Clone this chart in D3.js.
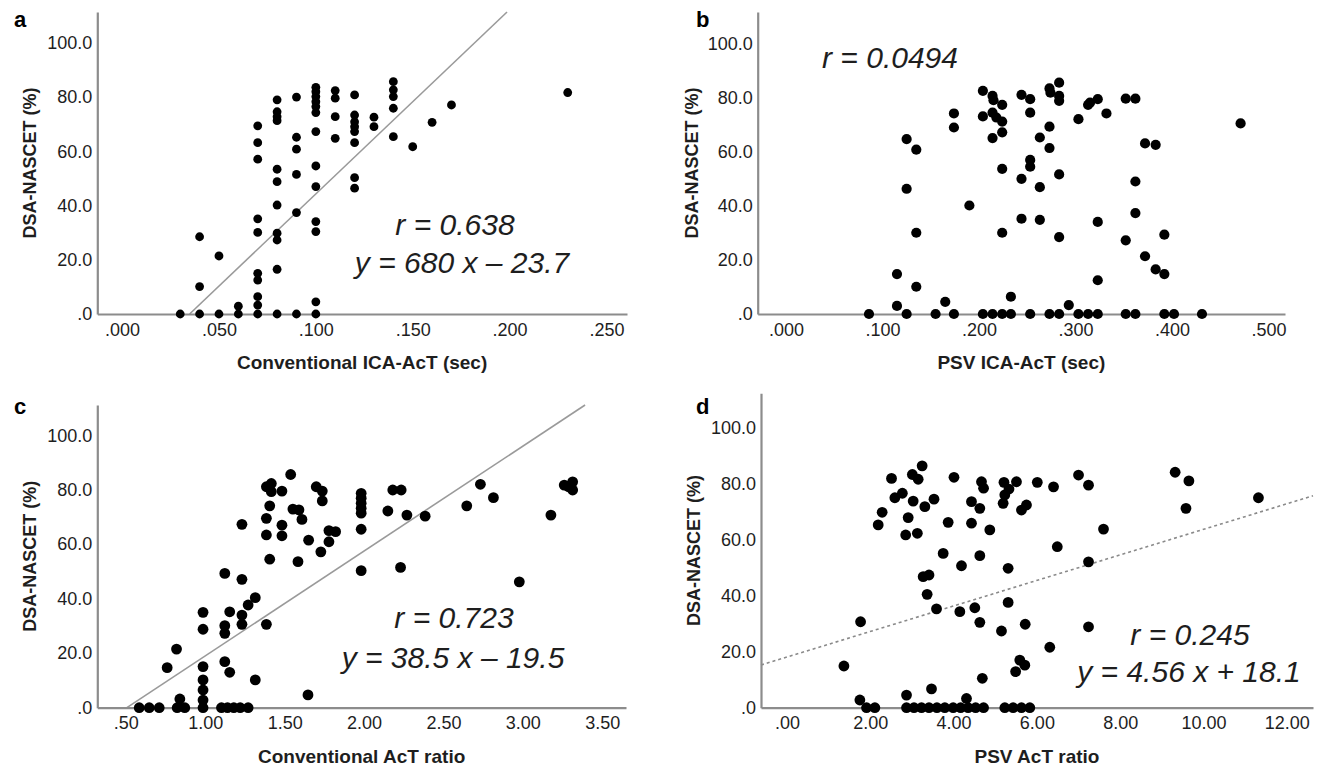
<!DOCTYPE html>
<html>
<head>
<meta charset="utf-8">
<script src="https://cdn.jsdelivr.net/npm/d3@7"></script>
<style>
  html, body { margin: 0; padding: 0; background: #fff; }
  svg { display: block; font-family: "Liberation Sans", Arial, sans-serif; }
</style>
</head>
<body>
<svg id="chart" width="1322" height="767"></svg>
<script>
// ---------------- DATA ----------------
const yTicks = [0, 20, 40, 60, 80, 100];
const yTickLabels = [".0", "20.0", "40.0", "60.0", "80.0", "100.0"];
const yTitle = "DSA-NASCET (%)";

// Panel a: Conventional ICA-AcT (sec)
const aX = [0.03,
  0.04,0.04,0.04,
  0.05,0.05,
  0.06,0.06,
  0.07,0.07,0.07,0.07,0.07,0.07,0.07,0.07,0.07,0.07,
  0.08,0.08,0.08,0.08,0.08,0.08,0.08,0.08,0.08,0.08,0.08,
  0.09,0.09,0.09,0.09,0.09,0.09,
  0.10,0.10,0.10,0.10,0.10,0.10,0.10,0.10,0.10,0.10,0.10,0.10,0.10,
  0.11,0.11,0.11,0.11,
  0.12,0.12,0.12,0.12,0.12,0.12,0.12,0.12,
  0.13,0.13,
  0.14,0.14,0.14,0.14,0.14,
  0.15,0.16,0.17,0.23];
const aY = [0,
  28.5,10.1,0,
  21.4,0,
  2.9,0,
  69.4,63.2,57.1,35.1,30.1,15.0,12.5,6.4,3.3,0,
  79.0,74.6,72.8,71.3,53.4,48.8,40.2,29.8,27.3,16.5,0,
  80.0,65.2,60.8,51.5,37.4,0,
  83.6,82.0,80.2,78.3,76.5,74.3,67.3,54.6,47.0,34.1,30.4,4.5,0,
  82.4,79.6,72.8,64.8,
  80.8,73.4,70.9,69.1,67.3,63.2,50.3,46.4,
  72.6,69.1,
  85.7,82.7,80.2,75.9,65.4,
  61.7,70.7,77.1,81.7];
const aXTicks = [0, 0.05, 0.10, 0.15, 0.20, 0.25];
const aXTickLabels = [".000", ".050", ".100", ".150", ".200", ".250"];
const aXDomain = [-0.0128, 0.2606];
const aYDomain = [0, 111.4];
const aFit = { slope: 680, intercept: -23.7, dotted: false };
const aText = ["r = 0.638", "y = 680 x \u2013 23.7"];
const aXTitle = "Conventional ICA-AcT (sec)";

// Panel b: PSV ICA-AcT (sec)
const bX = [0.086,0.115,0.115,0.125,0.125,0.125,0.135,0.135,0.135,0.155,0.165,0.174,0.174,0.174,0.19,
  0.204,0.214,0.215,0.224,0.204,0.214,0.218,0.224,0.224,0.214,0.224,0.224,0.233,
  0.244,0.253,0.253,0.244,0.253,0.253,0.244,0.263,0.263,0.263,
  0.273,0.274,0.283,0.283,0.283,0.273,0.273,0.283,0.283,0.293,
  0.303,0.313,0.315,0.323,0.332,0.323,0.323,
  0.352,0.362,0.372,0.383,0.362,0.362,0.352,0.372,0.383,0.392,0.392,0.471,
  0.204,0.214,0.224,0.233,0.253,0.273,0.283,0.303,0.313,0.323,0.352,0.362,0.392,0.402,0.431];
const bY = [0,14.8,3.0,64.8,46.4,0,60.9,30.1,10.1,0,4.5,0,74.3,69.1,40.2,
  82.7,80.8,79.2,77.5,73.2,74.6,72.8,71.3,67.3,65.2,53.8,30.1,6.4,
  81.2,79.6,74.6,50.1,57.1,54.6,35.3,65.4,47.0,34.9,
  83.6,82.0,85.7,80.8,79.0,69.4,61.5,51.7,28.5,3.3,
  72.2,77.5,78.3,79.6,74.3,34.1,12.5,
  79.8,79.8,63.2,62.7,49.1,37.4,27.3,21.4,16.5,14.8,29.4,70.6,
  0,0,0,0,0,0,0,0,0,0,0,0,0,0,0];
const bXTicks = [0, 0.1, 0.2, 0.3, 0.4, 0.5];
const bXTickLabels = [".000", ".100", ".200", ".300", ".400", ".500"];
const bXDomain = [-0.0293, 0.517];
const bYDomain = [0, 111.9];
const bFit = null;
const bText = ["r = 0.0494"];
const bXTitle = "PSV ICA-AcT (sec)";

// Panel c: Conventional AcT ratio
const cX = [0.584,0.647,0.710,0.823,0.84,0.871,0.76,0.819,
  0.986,0.986,0.986,0.986,0.986,0.986,0.986,
  1.102,1.14,1.18,1.22,1.27,
  1.123,1.123,1.123,1.123,1.154,1.154,
  1.231,1.231,1.231,1.231,1.27,1.315,1.315,
  1.385,1.385,1.385,1.385,1.416,1.416,1.406,1.406,
  1.483,1.483,1.483,1.538,1.552,1.59,1.609,1.584,1.651,
  1.699,1.737,1.737,1.728,1.779,1.779,1.821,1.647,
  1.982,1.982,1.982,1.982,1.982,1.982,1.982,
  2.15,2.181,2.234,2.27,2.23,2.385,2.647,2.733,2.815,2.978,3.177,
  3.261,3.314,3.314,3.288];
const cY = [0,0,0,0,3.2,0,14.7,21.5,
  0,2.8,6.5,10.2,15.1,28.8,35.0,
  0,0,0,0,0,
  16.9,49.3,30.1,27.3,13.0,35.2,
  67.3,47.1,34.0,30.6,37.7,40.4,10.2,
  30.6,69.5,63.4,81.1,82.3,79.3,74.1,54.5,
  79.5,67.0,63.1,85.6,72.9,72.6,69.1,53.6,61.5,
  81.1,79.5,75.9,57.2,65.0,60.9,64.6,4.7,
  78.7,76.9,75.0,73.2,71.4,65.5,50.3,
  72.2,79.9,79.9,70.7,51.5,70.3,74.1,82.0,77.1,46.2,70.7,
  81.7,82.9,79.9,81.1];
const cXTicks = [0.5, 1.0, 1.5, 2.0, 2.5, 3.0, 3.5];
const cXTickLabels = [".50", "1.00", "1.50", "2.00", "2.50", "3.00", "3.50"];
const cXDomain = [0.32, 3.65];
const cYDomain = [0, 111.1];
const cFit = { slope: 38.5, intercept: -19.5, dotted: false };
const cText = ["r = 0.723", "y = 38.5 x \u2013 19.5"];
const cXTitle = "Conventional AcT ratio";

// Panel d: PSV AcT ratio
const dX = [1.367,1.767,1.75,1.91,2.11,2.19,2.285,2.51,2.59,2.77,2.91,2.85,3.01,3.15,3.03,3.245,3.31,3.53,3.13,
  2.87,3.47,2.87,3.05,3.23,3.41,3.60,3.79,3.27,3.41,3.365,3.59,3.75,3.87,4.01,4.19,4.15,4.31,
  3.99,4.17,4.35,4.53,4.72,4.43,4.63,4.43,4.51,4.63,4.63,4.67,4.72,4.69,4.87,
  5.21,5.51,5.23,5.19,5.33,5.63,5.75,6.01,6.40,7.0,7.24,5.31,5.31,5.15,5.72,6.49,6.31,
  5.59,5.71,5.49,7.24,7.24,7.60,9.32,9.65,9.58,11.32,5.23,5.43,5.63,5.83];
const dY = [14.9,30.7,2.75,0,0,65.3,69.8,81.9,75.0,76.6,67.9,61.7,83.3,81.6,73.8,86.4,71.8,74.5,62.3,
  4.5,6.7,0,0,0,0,0,0,46.8,47.4,40.5,35.3,55.1,66.2,82.3,50.7,34.3,3.3,
  0,0,0,0,0,73.6,71.2,65.9,35.7,30.5,54.3,80.7,78.4,10.5,63.5,
  80.5,80.7,76.0,73.0,78.1,70.6,72.4,80.5,78.9,83.1,79.5,49.8,37.6,27.4,29.8,57.5,21.6,
  17.0,15.2,12.9,52.1,28.9,63.8,84.1,81.0,71.2,75.0,0,0,0,0];
const dXTicks = [0, 2, 4, 6, 8, 10, 12];
const dXTickLabels = [".00", "2.00", "4.00", "6.00", "8.00", "10.00", "12.00"];
const dXDomain = [-0.624, 12.63];
const dYDomain = [0, 112.3];
const dFit = { slope: 4.56, intercept: 18.1, dotted: true };
const dText = ["r = 0.245", "y = 4.56 x + 18.1"];
const dXTitle = "PSV AcT ratio";

// ---------------- LAYOUT ----------------
const panels = [
  { id: "a", xs: aX, ys: aY, xTicks: aXTicks, xLabels: aXTickLabels, xDom: aXDomain, yDom: aYDomain,
    fit: aFit, text: aText, xTitle: aXTitle,
    box: { l: 97.3, r: 627, t: 12, b: 314 }, rad: 4.4,
    lab: [14, 27], textPos: [[455, 235], [462, 273]], yTitleX: 36 },
  { id: "b", xs: bX, ys: bY, xTicks: bXTicks, xLabels: bXTickLabels, xDom: bXDomain, yDom: bYDomain,
    fit: bFit, text: bText, xTitle: bXTitle,
    box: { l: 757.7, r: 1285, t: 12, b: 314 }, rad: 5.1,
    lab: [696, 27], textPos: [[890, 68]], yTitleX: 698 },
  { id: "c", xs: cX, ys: cY, xTicks: cXTicks, xLabels: cXTickLabels, xDom: cXDomain, yDom: cYDomain,
    fit: cFit, text: cText, xTitle: cXTitle,
    box: { l: 97.3, r: 626, t: 405, b: 707.7 }, rad: 5.4,
    lab: [14, 414], textPos: [[454, 628], [453, 668]], yTitleX: 36 },
  { id: "d", xs: dX, ys: dY, xTicks: dXTicks, xLabels: dXTickLabels, xDom: dXDomain, yDom: dYDomain,
    fit: dFit, text: dText, xTitle: dXTitle,
    box: { l: 761, r: 1313, t: 393.3, b: 707.7 }, rad: 5.4,
    lab: [696, 414], textPos: [[1190, 645], [1189, 682]], yTitleX: 700 }
];

const svg = d3.select("#chart");
svg.append("rect").attr("width", 1322).attr("height", 767).attr("fill", "#fff");

const axisColor = "#8c8c8c";
const textColor = "#1e1e1e";

panels.forEach(p => {
  const g = svg.append("g");
  const x = d3.scaleLinear().domain(p.xDom).range([p.box.l, p.box.r]);
  const y = d3.scaleLinear().domain(p.yDom).range([p.box.b, p.box.t]);

  // regression line
  if (p.fit) {
    const f = p.fit;
    let x0 = p.xDom[0], x1 = p.xDom[1];
    const xAtY0 = (p.yDom[0] - f.intercept) / f.slope;
    const xAtYmax = (p.yDom[1] - f.intercept) / f.slope;
    x0 = Math.max(x0, Math.min(xAtY0, xAtYmax));
    x1 = Math.min(x1, Math.max(xAtY0, xAtYmax));
    const line = d3.line().x(d => x(d)).y(d => y(f.slope * d + f.intercept));
    g.append("path")
      .datum([x0, x1])
      .attr("d", line)
      .attr("fill", "none")
      .attr("stroke", f.dotted ? "#8a8a8a" : "#9a9a9a")
      .attr("stroke-width", f.dotted ? 1.6 : 1.6)
      .attr("stroke-dasharray", f.dotted ? "3,3" : null);
  }

  // axes
  const xAxis = d3.axisBottom(x).tickValues(p.xTicks)
    .tickFormat((d, i) => p.xLabels[i]).tickSize(0).tickSizeOuter(0).tickPadding(9);
  const yAxis = d3.axisLeft(y).tickValues(yTicks)
    .tickFormat((d, i) => yTickLabels[i]).tickSize(0).tickSizeOuter(0).tickPadding(5);

  const gx = g.append("g").attr("transform", `translate(0,${p.box.b})`).call(xAxis);
  const gy = g.append("g").attr("transform", `translate(${p.box.l},0)`).call(yAxis);
  [gx, gy].forEach(ax => {
    ax.select(".domain").attr("stroke", axisColor).attr("stroke-width", 2.2);
    ax.selectAll("text").attr("fill", textColor).style("font-size", "18px")
      .style("font-family", '"Liberation Sans", Arial, sans-serif');
  });

  // points
  const pts = p.xs.map((v, i) => [v, p.ys[i]]);
  g.append("g").selectAll("circle").data(pts).join("circle")
    .attr("cx", d => x(d[0])).attr("cy", d => y(d[1]))
    .attr("r", p.rad).attr("fill", "#000");

  // annotations
  p.text.forEach((t, i) => {
    g.append("text").attr("x", p.textPos[i][0]).attr("y", p.textPos[i][1])
      .attr("text-anchor", "middle").attr("fill", textColor)
      .style("font-size", "30px").style("font-style", "italic").text(t);
  });

  // x title
  g.append("text").attr("x", (p.box.l + p.box.r) / 2).attr("y", p.box.b + 55)
    .attr("text-anchor", "middle").attr("fill", textColor)
    .style("font-size", "19px").style("font-weight", "bold").text(p.xTitle);

  // y title
  g.append("text")
    .attr("transform", `translate(${p.yTitleX},${(p.box.t + p.box.b) / 2}) rotate(-90)`)
    .attr("text-anchor", "middle").attr("fill", textColor)
    .style("font-size", "18px").style("font-weight", "bold").text(yTitle);

  // panel letter
  g.append("text").attr("x", p.lab[0]).attr("y", p.lab[1]).attr("fill", "#000")
    .style("font-size", "22px").style("font-weight", "bold").text(p.id);
});
</script>
</body>
</html>
